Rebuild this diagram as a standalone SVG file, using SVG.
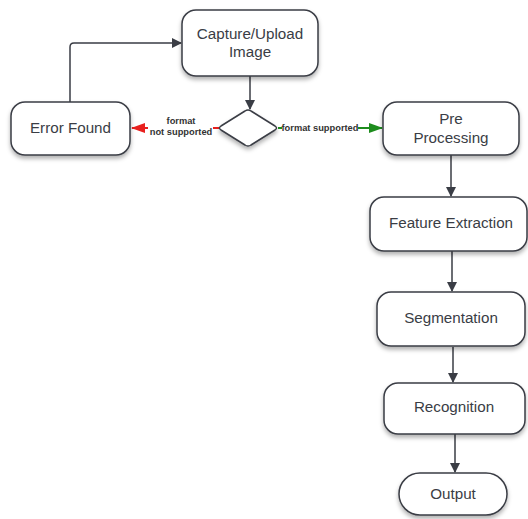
<svg xmlns="http://www.w3.org/2000/svg" width="528" height="519" viewBox="0 0 528 519">
<style>
.box{fill:#fff;stroke:#3a3d45;stroke-width:1.5;filter:url(#sh)}
.t{font-family:"Liberation Sans",Arial,sans-serif;font-size:15.2px;fill:#3a3d45;text-anchor:middle}
.lbl{font-family:"Liberation Sans",Arial,sans-serif;font-size:9.3px;font-weight:bold;fill:#333;text-anchor:middle}
.c{fill:none;stroke:#3a3d45;stroke-width:1.5}
</style>
<defs>
<filter id="sh" x="-20%" y="-20%" width="140%" height="150%">
<feDropShadow dx="0" dy="3" stdDeviation="2" flood-color="#000" flood-opacity="0.3"/>
</filter>
<marker id="ah" markerWidth="10" markerHeight="10" refX="9" refY="5" orient="auto" markerUnits="userSpaceOnUse">
<path d="M0,0 L10,5 L0,10 Z" fill="#3a3d45"/>
</marker>
<marker id="ahr" markerWidth="14" markerHeight="10" refX="13" refY="5" orient="auto" markerUnits="userSpaceOnUse">
<path d="M0,0 L14,5 L0,10 Z" fill="#e8201e"/>
</marker>
<marker id="ahg" markerWidth="14" markerHeight="10" refX="13" refY="5" orient="auto" markerUnits="userSpaceOnUse">
<path d="M0,0 L14,5 L0,10 Z" fill="#1d8c1d"/>
</marker>
</defs>
<g id="connectors">
<path class="c" d="M70,102 V47 Q70,43 74,43 H181" marker-end="url(#ah)"/>
<path class="c" d="M250,76 V109" marker-end="url(#ah)"/>
<path d="M219,128 H213" stroke="#e8201e" stroke-width="2" fill="none"/>
<path d="M148,128 H132" stroke="#e8201e" stroke-width="2" fill="none" marker-end="url(#ahr)"/>
<path d="M278,128 H282" stroke="#1d8c1d" stroke-width="2" fill="none"/>
<path d="M358,128 H382" stroke="#1d8c1d" stroke-width="2" fill="none" marker-end="url(#ahg)"/>
<path class="c" d="M451,155 V196" marker-end="url(#ah)"/>
<path class="c" d="M452,251 V291" marker-end="url(#ah)"/>
<path class="c" d="M453,347 V382" marker-end="url(#ah)"/>
<path class="c" d="M455,434 V472" marker-end="url(#ah)"/>
<text class="lbl" x="181" y="124">format</text>
<text class="lbl" x="181" y="135">not supported</text>
<text class="lbl" x="320" y="131">format supported</text>
</g>
<g id="capture">
<rect class="box" x="182" y="10" width="136" height="66" rx="14"/>
<text class="t" x="250" y="39">Capture/Upload</text>
<text class="t" x="250" y="57">Image</text>
</g>
<g id="decision">
<path class="box" d="M245,111 Q248,109 251,111 L275,126 Q278,128 275,130 L251,145 Q248,147 245,145 L221,130 Q218,128 221,126 Z"/>
</g>
<g id="error">
<rect class="box" x="11" y="102" width="119" height="53" rx="14"/>
<text class="t" x="70.5" y="133">Error Found</text>
</g>
<g id="preprocessing">
<rect class="box" x="383" y="102" width="136" height="53" rx="14"/>
<text class="t" x="451" y="124">Pre</text>
<text class="t" x="451" y="143">Processing</text>
</g>
<g id="feature">
<rect class="box" x="370" y="197" width="157" height="54" rx="14"/>
<text class="t" x="451" y="228">Feature Extraction</text>
</g>
<g id="segmentation">
<rect class="box" x="377" y="292" width="148" height="54" rx="14"/>
<text class="t" x="451" y="323">Segmentation</text>
</g>
<g id="recognition">
<rect class="box" x="384" y="383" width="141" height="51" rx="14"/>
<text class="t" x="454" y="412">Recognition</text>
</g>
<g id="output">
<rect class="box" x="399" y="473" width="108" height="42" rx="21"/>
<text class="t" x="453" y="499">Output</text>
</g>
</svg>
